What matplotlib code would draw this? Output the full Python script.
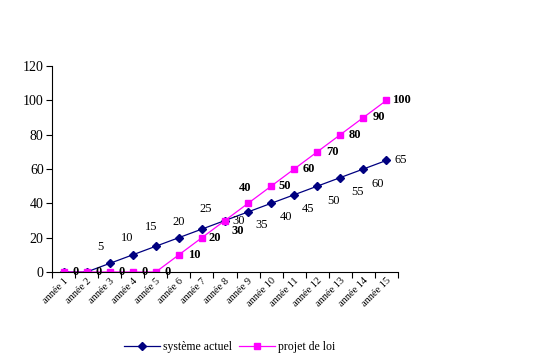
import matplotlib
matplotlib.use("Agg")
import matplotlib.pyplot as plt
import numpy as np

plt.rcParams['font.family'] = ['Liberation Serif', 'DejaVu Serif']

annees = ['année 1', 'année 2', 'année 3', 'année 4', 'année 5', 'année 6', 'année 7', 'année 8',
          'année 9', 'année 10', 'année 11', 'année 12', 'année 13', 'année 14', 'année 15']
systeme_actuel = [0, 0, 5, 10, 15, 20, 25, 30, 35, 40, 45, 50, 55, 60, 65]
projet_de_loi = [0, 0, 0, 0, 0, 10, 20, 30, 40, 50, 60, 70, 80, 90, 100]

# label offsets in pixels (dx, dy up)
off_bleu = [None, None, (-9, 16), (-6, 17), (-5, 19), (0, 16), (4, 20), (14, 0), (14, -13),
            (15, -14), (14, -14), (16, -15), (17, -14), (14, -15), (14, 0)]
off_rose = [(12, 0)] * 5 + [(15, 0), (13, 0), (13, -11), (-3, 15), (14, 0),
                            (15, 0), (15, 0), (15, 0), (15, 0), (15, 0)]

fig = plt.figure(figsize=(5.48, 3.63), dpi=100)
ax = fig.add_axes([52 / 548, 1 - 272 / 363, 346 / 548, 206 / 363])

x = np.arange(len(annees))
ax.plot(x, systeme_actuel, color='#000080', marker='D', markersize=4, linewidth=0.9,
        label='système actuel')
ax.plot(x, projet_de_loi, color='#FF00FF', marker='s', markersize=4.5, linewidth=0.9,
        label='projet de loi')

px = 0.72  # points per pixel
for i, v in enumerate(systeme_actuel):
    if off_bleu[i] is None:
        continue
    dx, dy = off_bleu[i]
    ax.annotate(str(v), (x[i], v), xytext=(dx * px, dy * px), textcoords='offset points',
                ha='center', va='center', fontsize=9)
for i, v in enumerate(projet_de_loi):
    dx, dy = off_rose[i]
    ax.annotate(str(v), (x[i], v), xytext=(dx * px, dy * px), textcoords='offset points',
                ha='center', va='center', fontsize=9, fontweight='bold')

ax.set_xlim(-0.5, len(annees) - 0.5)
ax.set_ylim(0, 120)
ax.set_yticks(range(0, 121, 20))
ax.set_xticks(np.arange(-0.5, len(annees)), minor=False)
ax.set_xticklabels([])
ax.set_xticks(x, minor=True)
ax.set_xticklabels(annees, minor=True, rotation=45, ha='right', rotation_mode='anchor',
                   fontsize=7.5)
ax.tick_params(axis='x', which='minor', length=0, pad=3)
ax.tick_params(axis='x', which='major', length=4, width=0.8)
ax.tick_params(axis='y', length=4, width=0.8, labelsize=10, pad=2)

for s in ['top', 'right']:
    ax.spines[s].set_visible(False)
for s in ['left', 'bottom']:
    ax.spines[s].set_linewidth(0.8)

fig.legend(loc='center', bbox_to_anchor=(230 / 548, 1 - 347 / 363), ncol=2, frameon=False,
           fontsize=8.5, handlelength=3, columnspacing=0.6, handletextpad=0.3)

fig.savefig('out.png', dpi=100)
